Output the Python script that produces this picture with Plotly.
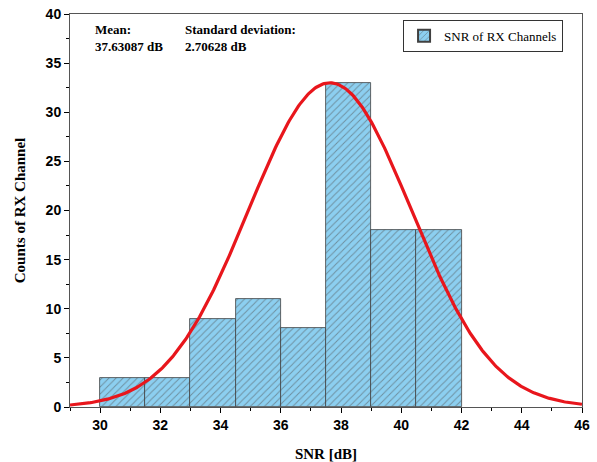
import numpy as np
import plotly.graph_objects as go

bin_left = [30, 31.5, 33, 34.5, 36, 37.5, 39, 40.5]
bin_width = 1.5
counts = [3, 3, 9, 11, 8, 33, 18, 18]
mean_snr = 37.63087
std_snr = 2.70628
curve_peak = 33.0
x_ticks = [30, 32, 34, 36, 38, 40, 42, 44, 46]
y_ticks = [0, 5, 10, 15, 20, 25, 30, 35, 40]

centers = [b + bin_width / 2 for b in bin_left]
xc = np.linspace(29, 46, 400)
yc = curve_peak * np.exp(-0.5 * ((xc - mean_snr) / std_snr) ** 2)

fig = go.Figure()
fig.add_trace(go.Bar(
    x=centers, y=counts, width=[bin_width] * len(counts),
    name="SNR of RX Channels",
    marker=dict(color="#8ccff0",
                line=dict(color="#404040", width=0.8),
                pattern=dict(shape="/", fgcolor="#505050", bgcolor="#8ccff0",
                             size=5, solidity=0.2)),
))
fig.add_trace(go.Scatter(x=xc, y=yc, mode="lines", showlegend=False,
                         line=dict(color="#e8161c", width=3.2)))

fig.update_layout(
    width=597, height=462,
    margin=dict(l=70, r=15, t=14, b=55),
    plot_bgcolor="white", paper_bgcolor="white",
    showlegend=True, bargap=0,
    legend=dict(x=0.963, y=0.985, xanchor="right", yanchor="top",
                bordercolor="#333333", borderwidth=1, bgcolor="white",
                font=dict(family="Liberation Serif, Times New Roman", size=13, color="black"),
                itemsizing="constant", tracegroupgap=0),
    xaxis=dict(range=[29, 46], tickvals=x_ticks, ticks="outside", ticklen=5,
               tickcolor="black", showline=True, linecolor="#555555", linewidth=1,
               mirror=True, showgrid=False, zeroline=False, automargin=False,
               ticklabeloverflow="allow",
               tickfont=dict(family="Liberation Sans, Arial", size=14, color="black", weight="bold"),
               minor=dict(dtick=1, ticks="outside", ticklen=3, tickcolor="black"),
               title=dict(text="<b>SNR [dB]</b>", standoff=20,
                          font=dict(family="Liberation Serif, Times New Roman", size=15, color="black"))),
    yaxis=dict(range=[0, 40], tickvals=y_ticks, ticks="outside", ticklen=5,
               tickcolor="black", showline=True, linecolor="#555555", linewidth=1,
               mirror=True, showgrid=False, zeroline=False, automargin=False,
               ticklabeloverflow="allow",
               tickfont=dict(family="Liberation Sans, Arial", size=14, color="black", weight="bold"),
               minor=dict(dtick=2.5, ticks="outside", ticklen=3, tickcolor="black"),
               title=dict(text="<b>Counts of RX Channel</b>", standoff=16,
                          font=dict(family="Liberation Serif, Times New Roman", size=15, color="black"))),
)

annfont = dict(family="Liberation Serif, Times New Roman", size=13, color="black")
fig.add_annotation(xref="paper", yref="paper", x=0.045, y=0.985, xanchor="left", yanchor="top",
                   text="<b>Mean:</b><br><b>%.5f dB</b>" % mean_snr, showarrow=False,
                   align="left", font=annfont)
fig.add_annotation(xref="paper", yref="paper", x=0.22, y=0.985, xanchor="left", yanchor="top",
                   text="<b>Standard deviation:</b><br><b>%.5f dB</b>" % std_snr, showarrow=False,
                   align="left", font=annfont)

fig.write_html("out.html", config={"displayModeBar": False},
               post_script="document.body.style.margin='0';")
